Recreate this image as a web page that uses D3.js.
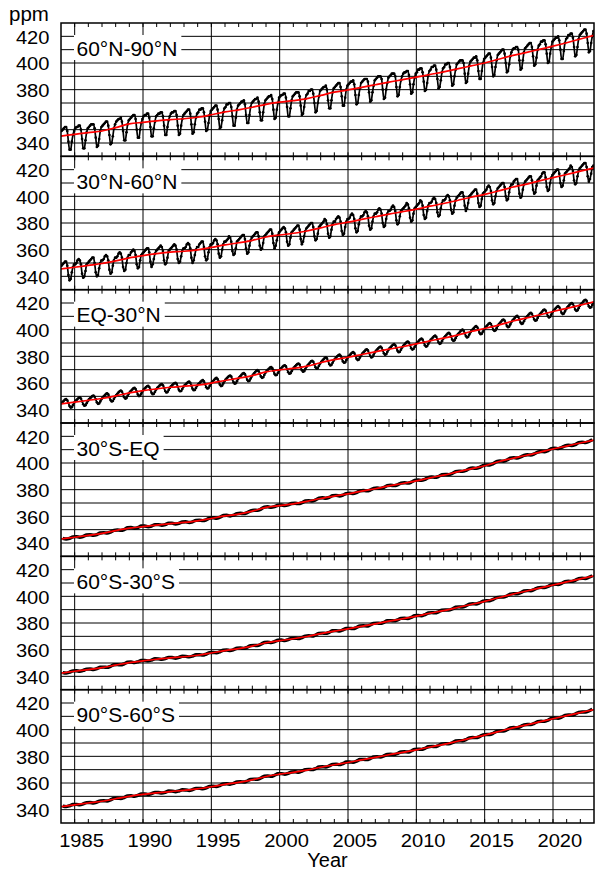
<!DOCTYPE html>
<html><head><meta charset="utf-8">
<script src="https://cdn.jsdelivr.net/npm/d3@7"></script>
<style>html,body{margin:0;padding:0;background:#fff;overflow:hidden}svg{display:block}</style>
</head><body><svg id="chart" width="595" height="877"></svg>
<script>
// ---------------- data ----------------
const regionLabels = ["60°N-90°N", "30°N-60°N", "EQ-30°N", "30°S-EQ", "60°S-30°S", "90°S-60°S"];
const trendYears = [1984,1985,1986,1987,1988,1989,1990,1991,1992,1993,1994,1995,1996,1997,1998,1999,2000,2001,2002,2003,2004,2005,2006,2007,2008,2009,2010,2011,2012,2013,2014,2015,2016,2017,2018,2019,2020,2021,2022,2023];
const xTickYears = [1985,1990,1995,2000,2005,2010,2015,2020];
const yTickValues = [340,360,380,400,420];
const yGridValues = [340,350,360,370,380,390,400,410,420];
const obsStartYear = 1984;

// deseasonalised trend (red), values at the start of each year
const trend_60N_90N = [345.2,346.5,347.8,349.0,351.5,354.3,355.5,356.6,357.5,358.2,359.3,361.2,363.3,364.9,366.8,369.0,370.6,371.8,373.3,375.7,378.1,379.8,381.7,383.7,385.7,387.5,389.4,391.4,393.3,395.6,397.8,400.0,402.8,405.5,407.8,410.2,412.6,415.2,418.0,420.8];
const trend_30N_60N = [345.5,346.8,348.2,349.6,351.6,353.8,355.5,357.0,358.2,358.8,359.9,361.7,363.6,365.2,367.0,369.5,371.0,372.3,374.0,376.4,378.8,380.6,382.7,384.7,386.7,388.5,390.4,392.6,394.6,396.9,399.3,401.5,404.0,406.8,409.0,411.6,414.0,416.4,418.9,421.3];
const trend_EQ_30N = [344.3,345.6,347.0,348.4,350.3,352.6,354.3,355.6,356.8,357.6,358.4,359.9,361.9,363.6,365.5,368.3,369.8,370.9,372.6,375.2,377.5,379.3,381.4,383.4,385.4,387.2,389.3,391.6,393.6,395.9,398.6,400.9,403.4,406.3,408.6,411.0,413.6,416.0,418.4,420.8];
const trend_30S_EQ = [343.0,344.3,345.7,347.2,349.3,351.1,352.3,353.4,354.5,355.4,356.6,358.4,360.3,361.7,363.9,366.7,368.0,369.3,371.2,373.4,375.2,376.8,378.9,380.7,382.8,384.6,386.6,388.9,390.9,393.3,395.6,397.9,400.9,403.4,405.6,408.0,410.5,412.7,415.0,417.2];
const trend_60S_30S = [342.4,343.8,345.1,346.5,348.4,350.3,351.6,352.8,353.8,354.7,355.8,357.5,359.3,360.8,362.7,365.2,366.8,368.2,369.9,372.0,373.9,375.6,377.5,379.4,381.4,383.2,385.1,387.3,389.3,391.6,393.9,396.2,398.9,401.5,403.8,406.2,408.5,410.8,413.1,415.3];
const trend_90S_60S = [342.3,343.6,345.0,346.3,348.2,350.0,351.4,352.6,353.6,354.5,355.6,357.2,359.0,360.5,362.4,364.9,366.6,368.0,369.7,371.8,373.7,375.4,377.3,379.2,381.2,383.0,384.9,387.0,389.0,391.3,393.6,395.9,398.5,401.1,403.4,405.8,408.2,410.5,412.8,415.1];

// monthly observations (black), Jan 1984 .. Dec 2022
const monthly_60N_90N = [
349,350,351,352,352,349,341,335,335,341,346,349,
351,352,352,353,353,350,343,336,336,342,348,351,
352,353,354,354,354,351,344,337,338,343,349,352,
353,354,355,356,356,353,346,339,340,345,351,354,
356,357,358,358,359,356,349,342,342,348,354,357,
358,359,360,361,361,358,350,344,344,350,355,358,
360,361,361,362,362,359,352,345,345,351,356,360,
361,362,362,363,363,360,353,346,346,352,357,360,
362,363,363,364,364,361,353,346,347,353,358,361,
362,363,364,365,365,362,354,347,348,354,359,362,
363,365,365,366,366,363,356,349,350,355,361,364,
365,366,367,368,368,365,358,351,352,357,363,366,
367,369,369,370,370,367,360,353,353,359,365,368,
369,370,371,371,372,369,361,355,355,361,367,370,
371,372,373,373,374,371,363,357,357,363,369,372,
373,374,375,375,376,373,365,358,359,365,370,374,
375,376,376,377,377,374,367,360,360,366,372,375,
376,377,378,378,378,375,368,361,362,367,373,376,
377,379,379,380,380,377,370,363,364,370,375,379,
380,381,382,382,383,380,372,366,366,372,378,381,
382,383,384,385,385,382,375,368,368,374,380,383,
384,385,386,386,387,384,376,369,370,376,381,385,
386,387,388,388,388,386,378,371,372,378,383,387,
388,389,390,390,390,388,380,373,374,380,385,389,
390,391,392,392,392,390,382,375,376,382,387,390,
392,393,393,394,394,391,384,377,378,384,389,392,
393,395,395,396,396,393,386,379,380,385,391,394,
395,397,397,398,398,395,388,381,382,387,393,396,
397,399,399,400,400,397,390,383,384,390,395,399,
400,401,402,402,402,400,392,385,386,392,398,401,
402,403,404,404,405,402,394,388,388,394,400,403,
404,405,406,407,407,404,397,390,391,397,402,406,
407,408,409,410,410,407,400,393,394,399,405,408,
410,411,411,412,412,410,402,395,396,402,408,411,
412,413,414,415,415,412,405,398,399,404,410,413,
414,416,416,417,417,414,407,400,401,407,412,416,
417,418,419,419,420,417,410,403,403,409,415,418,
419,421,421,422,422,419,412,405,406,412,418,421,
422,423,424,425,425,422,415,408,409,415,420,424];

const monthly_30N_60N = [
348,349,350,351,351,348,341,337,338,343,347,349,
349,350,352,353,352,349,342,339,340,344,349,350,
351,352,353,354,354,350,343,340,341,346,350,352,
352,353,355,356,355,352,345,342,343,348,352,354,
354,355,357,358,357,354,347,344,345,350,354,356,
356,358,359,360,359,356,349,346,347,352,356,357,
358,359,360,361,361,358,351,347,349,353,357,359,
360,361,362,363,362,359,352,349,350,354,359,360,
361,362,363,364,363,360,353,350,351,355,359,361,
361,362,364,365,364,361,354,350,352,356,360,362,
362,364,365,366,366,362,355,352,353,358,362,364,
364,365,367,368,367,364,357,354,355,360,364,366,
366,367,368,370,369,366,359,356,357,361,366,367,
368,369,370,371,371,368,361,357,358,363,367,369,
370,371,372,373,373,370,363,360,361,365,370,371,
372,373,374,375,375,372,365,361,363,367,371,373,
374,375,376,377,376,373,366,363,364,369,373,374,
375,376,377,378,378,375,368,364,366,370,374,376,
377,378,379,380,380,377,370,367,368,372,377,378,
379,380,381,383,382,379,372,369,370,375,379,381,
381,383,384,385,384,381,374,371,372,377,381,383,
383,384,386,387,386,383,376,373,374,379,383,385,
385,386,388,389,388,385,378,375,376,381,385,387,
387,388,390,391,390,387,380,377,378,383,387,389,
389,390,392,393,392,389,382,379,380,385,389,390,
391,392,393,395,394,391,384,381,382,387,391,392,
393,394,395,397,396,393,386,383,384,389,393,395,
395,396,398,399,398,395,388,385,386,391,395,397,
397,398,400,401,400,397,390,387,388,393,397,399,
400,401,402,403,403,400,393,389,391,395,400,401,
402,403,404,405,405,402,395,392,393,398,402,403,
404,405,407,408,407,404,397,394,395,400,404,406,
407,408,409,410,410,407,400,397,398,403,407,409,
409,411,412,413,413,409,402,399,400,405,409,411,
412,413,414,415,415,412,405,402,403,408,412,413,
414,415,417,418,418,414,407,404,405,410,414,416,
417,418,419,420,420,417,410,407,408,412,417,418,
419,420,421,423,422,419,412,409,410,415,419,421,
422,423,424,425,425,422,415,411,413,417,422,423];

const monthly_EQ_30N = [
345.0,345.8,346.7,347.5,347.9,347.0,345.0,342.7,341.6,341.9,343.4,345.1,
346.3,347.1,348.0,348.8,349.2,348.3,346.4,344.1,343.0,343.3,344.8,346.4,
347.7,348.5,349.4,350.2,350.6,349.7,347.8,345.5,344.4,344.7,346.2,347.8,
349.1,349.9,350.9,351.8,352.2,351.4,349.4,347.2,346.2,346.5,348.1,349.7,
351.0,351.9,352.9,353.8,354.3,353.5,351.6,349.3,348.3,348.7,350.3,352.0,
353.3,354.1,355.1,355.9,356.3,355.5,353.5,351.3,350.2,350.6,352.1,353.7,
355.0,355.8,356.7,357.5,357.9,357.0,355.0,352.7,351.6,351.9,353.4,355.1,
356.3,357.1,358.0,358.8,359.2,358.3,356.3,354.0,352.9,353.2,354.7,356.3,
357.4,358.2,359.1,359.8,360.2,359.3,357.2,354.9,353.8,354.0,355.5,357.1,
358.2,359.0,359.9,360.6,361.0,360.1,358.0,355.7,354.6,354.8,356.3,357.9,
359.1,359.9,360.8,361.6,362.1,361.2,359.2,356.9,355.9,356.2,357.7,359.3,
360.6,361.5,362.4,363.3,363.8,362.9,361.0,358.8,357.7,358.1,359.7,361.3,
362.6,363.4,364.4,365.2,365.6,364.8,362.8,360.6,359.5,359.9,361.4,363.0,
364.3,365.1,366.1,367.0,367.4,366.6,364.6,362.4,361.4,361.7,363.3,364.9,
366.2,367.2,368.2,369.1,369.7,368.9,367.0,364.9,363.9,364.3,366.0,367.7,
369.0,369.8,370.7,371.5,372.0,371.1,369.1,366.8,365.8,366.1,367.6,369.2,
370.5,371.2,372.1,372.9,373.3,372.4,370.4,368.1,367.0,367.3,368.8,370.4,
371.6,372.4,373.4,374.2,374.6,373.8,371.8,369.6,368.5,368.9,370.4,372.0,
373.3,374.2,375.2,376.2,376.7,375.9,374.0,371.8,370.8,371.3,372.9,374.6,
375.9,376.8,377.8,378.7,379.2,378.4,376.5,374.2,373.2,373.6,375.2,376.9,
378.2,379.0,380.0,380.8,381.3,380.4,378.5,376.2,375.2,375.5,377.1,378.7,
380.0,380.9,381.8,382.7,383.2,382.4,380.4,378.2,377.2,377.6,379.1,380.8,
382.1,383.0,383.9,384.8,385.3,384.4,382.5,380.3,379.2,379.6,381.2,382.8,
384.1,385.0,385.9,386.8,387.3,386.4,384.5,382.3,381.2,381.6,383.2,384.8,
386.1,386.9,387.9,388.7,389.2,388.3,386.4,384.1,383.1,383.4,385.0,386.6,
387.9,388.8,389.7,390.6,391.1,390.3,388.3,386.1,385.1,385.5,387.0,388.7,
390.0,390.9,391.9,392.8,393.3,392.5,390.6,388.3,387.3,387.7,389.3,391.0,
392.3,393.2,394.1,395.0,395.5,394.6,392.7,390.5,389.4,389.8,391.4,393.0,
394.3,395.2,396.2,397.1,397.6,396.8,394.9,392.6,391.6,392.0,393.6,395.3,
396.6,397.5,398.6,399.5,400.0,399.2,397.4,395.2,394.2,394.6,396.3,398.0,
399.3,400.2,401.2,402.1,402.6,401.8,399.9,397.6,396.6,397.0,398.6,400.3,
401.6,402.5,403.5,404.4,404.9,404.2,402.3,400.1,399.1,399.5,401.1,402.8,
404.1,405.1,406.1,407.1,407.6,406.8,405.0,402.8,401.9,402.3,403.9,405.7,
407.0,407.9,408.9,409.8,410.3,409.5,407.6,405.3,404.3,404.7,406.3,408.0,
409.3,410.2,411.2,412.1,412.6,411.8,409.9,407.7,406.7,407.1,408.7,410.4,
411.7,412.6,413.6,414.6,415.1,414.3,412.4,410.2,409.2,409.7,411.3,413.0,
414.3,415.2,416.2,417.1,417.6,416.8,414.9,412.7,411.7,412.1,413.7,415.4,
416.7,417.6,418.6,419.5,420.0,419.2,417.3,415.1,414.1,414.5,416.1,417.8,
419.1,420.0,421.0,421.9,422.4,421.6,419.7,417.5,416.5,416.9,418.5,420.2];

// quarterly observations (black) for the southern bands, 1984 .. 2022
const quarterly_30S_EQ = [
343.5,343.0,343.5,344.6, 344.8,344.3,344.9,346.0, 346.2,345.8,346.3,347.5, 347.8,347.5,348.2,349.5,
349.8,349.5,350.1,351.4, 351.6,351.1,351.6,352.7, 352.7,352.2,352.7,353.8, 353.8,353.3,353.8,354.9,
354.9,354.3,354.8,355.8, 355.9,355.4,355.9,357.0, 357.1,356.8,357.4,358.7, 358.9,358.6,359.3,360.6,
360.8,360.3,360.9,362.0, 362.3,362.0,362.8,364.1, 364.6,364.5,365.4,366.9, 367.2,366.7,367.2,368.3,
368.5,368.0,368.5,369.6, 369.8,369.5,370.2,371.5, 371.8,371.5,372.3,373.6, 373.9,373.6,374.2,375.5,
375.7,375.3,375.9,377.1, 377.4,377.1,377.8,379.1, 379.4,379.1,379.7,381.0, 381.3,381.0,381.7,383.0,
383.3,383.0,383.6,384.9, 385.2,384.9,385.6,386.9, 387.2,387.0,387.7,389.1, 389.5,389.2,389.9,391.2,
391.5,391.3,392.1,393.5, 393.9,393.7,394.4,395.8, 396.2,396.0,396.7,398.1, 398.6,398.5,399.5,401.0,
401.5,401.3,402.2,403.6, 404.0,403.7,404.5,405.8, 406.2,406.0,406.8,408.2, 408.6,408.4,409.3,410.7,
411.1,410.8,411.6,412.9, 413.3,413.1,413.8,415.2, 415.6,415.3,416.1,417.4];

const quarterly_60S_30S = [
342.8,342.4,343.1,344.1, 344.2,343.8,344.4,345.4, 345.5,345.1,345.8,346.8, 346.9,346.7,347.5,348.7,
348.8,348.6,349.4,350.6, 350.7,350.3,350.9,351.9, 352.0,351.6,352.2,353.2, 353.1,352.7,353.2,354.2,
354.1,353.6,354.2,355.1, 355.0,354.6,355.2,356.2, 356.2,355.9,356.7,357.8, 357.9,357.7,358.4,359.6,
359.7,359.4,360.0,361.1, 361.2,361.0,361.8,363.0, 363.2,363.1,364.1,365.4, 365.6,365.3,366.0,367.1,
367.2,366.8,367.5,368.5, 368.6,368.3,369.1,370.2, 370.4,370.2,371.0,372.2, 372.4,372.2,373.0,374.2,
374.3,374.0,374.8,375.9, 376.0,375.8,376.6,377.8, 377.9,377.7,378.5,379.7, 379.9,379.7,380.5,381.7,
381.8,381.6,382.3,383.5, 383.6,383.4,384.2,385.4, 385.6,385.4,386.3,387.5, 387.8,387.6,388.4,389.6,
389.8,389.7,390.5,391.8, 392.1,392.0,392.8,394.1, 394.4,394.3,395.1,396.4, 396.7,396.7,397.7,399.1,
399.4,399.4,400.3,401.7, 402.0,401.9,402.7,404.0, 404.3,404.2,405.1,406.4, 406.7,406.6,407.4,408.7,
409.0,408.9,409.7,411.0, 411.3,411.2,412.0,413.3, 413.6,413.4,414.3,415.5];

const quarterly_90S_60S = [
342.7,342.3,342.9,343.9, 344.0,343.6,344.3,345.3, 345.4,345.0,345.6,346.6, 346.7,346.5,347.3,348.5,
348.6,348.4,349.1,350.3, 350.4,350.0,350.7,351.7, 351.8,351.4,352.0,353.0, 352.9,352.5,353.0,354.0,
353.9,353.4,354.0,354.9, 354.8,354.4,355.0,356.0, 356.0,355.7,356.4,357.5, 357.6,357.4,358.1,359.3,
359.4,359.1,359.7,360.8, 360.9,360.7,361.5,362.7, 362.9,362.8,363.8,365.1, 365.3,365.0,365.8,366.9,
367.0,366.6,367.3,368.3, 368.4,368.1,368.9,370.0, 370.2,370.0,370.8,372.0, 372.2,372.0,372.8,374.0,
374.1,373.8,374.6,375.7, 375.8,375.6,376.4,377.6, 377.7,377.5,378.3,379.5, 379.7,379.5,380.3,381.5,
381.6,381.4,382.1,383.3, 383.4,383.2,384.0,385.2, 385.4,385.2,386.0,387.2, 387.5,387.3,388.1,389.3,
389.5,389.4,390.2,391.5, 391.8,391.7,392.5,393.8, 394.1,394.0,394.8,396.1, 396.4,396.4,397.3,398.7,
399.0,399.0,399.9,401.3, 401.6,401.5,402.3,403.6, 403.9,403.8,404.7,406.0, 406.3,406.2,407.1,408.4,
408.7,408.6,409.4,410.7, 411.0,410.9,411.7,413.0, 413.3,413.2,414.0,415.3];

// ---------------- drawing ----------------
const panels = [
  {label: regionLabels[0], trend: trend_60N_90N, obs: monthly_60N_90N, perYear: 12, strong: true},
  {label: regionLabels[1], trend: trend_30N_60N, obs: monthly_30N_60N, perYear: 12, strong: true},
  {label: regionLabels[2], trend: trend_EQ_30N, obs: monthly_EQ_30N, perYear: 12, strong: true},
  {label: regionLabels[3], trend: trend_30S_EQ, obs: quarterly_30S_EQ, perYear: 4, strong: false},
  {label: regionLabels[4], trend: trend_60S_30S, obs: quarterly_60S_30S, perYear: 4, strong: false},
  {label: regionLabels[5], trend: trend_90S_60S, obs: quarterly_90S_60S, perYear: 4, strong: false}
];

const FONT = "'Liberation Sans', Arial, Helvetica, sans-serif";
const left = 61, right = 594, top0 = 23, panelH = 800 / 6;
const svg = d3.select("#chart");
svg.append("rect").attr("width", 595).attr("height", 877).attr("fill", "#fff");

const x = d3.scaleLinear().domain([1984, 2023]).range([left, right]);
const minorYears = d3.range(1985, 2023);

panels.forEach((p, k) => {
  const top = top0 + k * panelH, bottom = top + panelH;
  const y = d3.scaleLinear().domain([330, 430]).range([bottom, top]);
  const g = svg.append("g");
  const clipId = "clip" + k;
  svg.append("clipPath").attr("id", clipId).append("rect")
    .attr("x", left).attr("y", top).attr("width", right - left).attr("height", panelH);

  g.selectAll(".hg").data(yGridValues).join("line")
    .attr("x1", left).attr("x2", right)
    .attr("y1", d => y(d)).attr("y2", d => y(d))
    .attr("stroke", "#000").attr("stroke-width", 1);
  g.selectAll(".vg").data(xTickYears).join("line")
    .attr("x1", d => x(d)).attr("x2", d => x(d))
    .attr("y1", top).attr("y2", bottom)
    .attr("stroke", "#000").attr("stroke-width", 1);
  g.selectAll(".tt").data(minorYears).join("line")
    .attr("x1", d => x(d)).attr("x2", d => x(d))
    .attr("y1", top).attr("y2", top + 4)
    .attr("stroke", "#000").attr("stroke-width", 1);
  g.selectAll(".tb").data(minorYears).join("line")
    .attr("x1", d => x(d)).attr("x2", d => x(d))
    .attr("y1", bottom - 4).attr("y2", bottom)
    .attr("stroke", "#000").attr("stroke-width", 1);

  const lg = g.append("g");
  const lbox = lg.append("rect").attr("fill", "#fff");
  const ltext = lg.append("text")
    .attr("x", 76.5).attr("y", top + 32.5)
    .attr("font-family", FONT).attr("font-size", 21).attr("fill", "#000")
    .text(p.label);
  const tw = ltext.node().getComputedTextLength();
  lbox.attr("x", 74).attr("y", top + 12).attr("width", tw + 6.5).attr("height", 25);

  const pts = p.obs.map((v, i) => [obsStartYear + (i + 0.5) / p.perYear, v]);
  const dg = g.append("g").attr("clip-path", `url(#${clipId})`);
  if (p.strong) {
    dg.append("path").datum(pts).attr("d", d3.line().x(d => x(d[0])).y(d => y(d[1])).curve(d3.curveMonotoneX))
      .attr("fill", "none").attr("stroke", "#000").attr("stroke-width", 1.7)
      .attr("stroke-linejoin", "round");
    dg.selectAll(".pt").data(pts).join("circle")
      .attr("cx", d => x(d[0])).attr("cy", d => y(d[1])).attr("r", 1.35).attr("fill", "#000");
  } else {
    dg.append("path").datum(pts).attr("d", d3.line().x(d => x(d[0])).y(d => y(d[1])).curve(d3.curveMonotoneX))
      .attr("fill", "none").attr("stroke", "#000").attr("stroke-width", 3.4)
      .attr("stroke-linejoin", "round");
  }
  const tpts = p.trend.map((v, i) => [trendYears[i], v]);
  dg.append("path").datum(tpts)
    .attr("d", d3.line().x(d => x(d[0])).y(d => y(d[1])).curve(d3.curveMonotoneX))
    .attr("fill", "none").attr("stroke", "#ff0000").attr("stroke-width", 1.7);

  g.append("rect").attr("x", left).attr("y", top).attr("width", right - left).attr("height", panelH)
    .attr("fill", "none").attr("stroke", "#000").attr("stroke-width", 1.5);

  yTickValues.forEach(v => {
    svg.append("g").attr("transform", `translate(49.5,${y(v) + 7.2}) scale(1.15,1)`)
      .append("text").attr("text-anchor", "end")
      .attr("font-family", FONT).attr("font-size", 17.5).attr("fill", "#000")
      .text(v);
  });
});

xTickYears.forEach(yr => {
  svg.append("g").attr("transform", `translate(${x(yr + 0.5)},847) scale(1.15,1)`)
    .append("text").attr("text-anchor", "middle")
    .attr("font-family", FONT).attr("font-size", 17.5).attr("fill", "#000")
    .text(yr);
});

svg.append("text").attr("x", 9).attr("y", 20.5)
  .attr("font-family", FONT).attr("font-size", 20.5).attr("fill", "#000").text("ppm");
svg.append("text").attr("x", (left + right) / 2).attr("y", 867).attr("text-anchor", "middle")
  .attr("font-family", FONT).attr("font-size", 20).attr("fill", "#000").text("Year");
</script>
</body></html>
